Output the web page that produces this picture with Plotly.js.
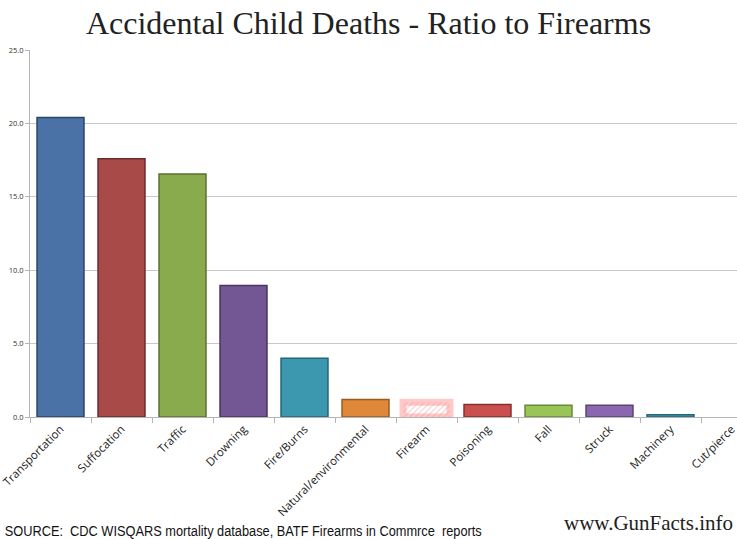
<!DOCTYPE html>
<html>
<head>
<meta charset="utf-8">
<script src="https://cdn.plot.ly/plotly-3.0.1.min.js"></script>
<style>html,body{margin:0;padding:0;background:#fff;}#chart{width:737px;height:539px;}</style>
</head>
<body>
<div id="chart"></div>
<script>
const categories = ["Transportation","Suffocation","Traffic","Drowning","Fire/Burns","Natural/environmental","Firearm","Poisoning","Fall","Struck","Machinery","Cut/pierce"];
const ratios = [20.4, 17.6, 16.55, 8.95, 4.0, 1.2, 1.0, 0.85, 0.8, 0.8, 0.15, 0.0];
const barColors = ["#4A72A6","#A84A48","#8AAA4E","#735694","#3C98AE","#E0883A","#F6D3D3","#C9504E","#9BC456","#8A68B0","#3EA4C0","#3EA4C0"];
const edgeColors = ["#2B4566","#6A2C2B","#5A7230","#4A3561","#24657A","#9A5A22","rgba(255,120,120,0.4)","#872F2E","#67893A","#5A4478","#24657A","#24657A"];
const tickVals = [0, 5, 10, 15, 20, 25];

const trace = {
  type: "bar",
  x: categories,
  y: ratios,
  width: 0.77,
  marker: {
    color: barColors,
    line: { color: edgeColors, width: categories.map((c, i) => c === "Firearm" ? 7 : (ratios[i] > 0 ? 1.5 : 0)) },
    pattern: {
      shape: categories.map(c => c === "Firearm" ? "/" : ""),
      fgcolor: "#E08A8A",
      bgcolor: "#FBE6E6",
      size: 4,
      solidity: 0.3
    }
  },
  hoverinfo: "x+y"
};

const layout = {
  width: 737, height: 539,
  margin: { l: 30, r: 0, t: 50, b: 122 },
  paper_bgcolor: "#fff", plot_bgcolor: "#fff",
  showlegend: false,
  title: {
    text: "Accidental Child Deaths - Ratio to Firearms",
    font: { family: "Liberation Serif, Times New Roman, serif", size: 32, color: "#222" },
    x: 0.5, xanchor: "center", y: 0.958, yanchor: "middle"
  },
  xaxis: {
    range: [-0.5, 11.09],
    tickangle: -45,
    tickfont: { family: "Open Sans, Carlito, sans-serif", size: 11.5, color: "#222" },
    showline: true, linecolor: "#b5b5b5", linewidth: 1,
    ticks: "outside", ticklen: 5, tickcolor: "#b5b5b5",
    tickson: "boundaries",
    showgrid: false, zeroline: false, fixedrange: true
  },
  yaxis: {
    range: [0, 25],
    tickvals: tickVals,
    tickformat: ".1f",
    tickfont: { family: "Open Sans, Carlito, sans-serif", size: 7.5, color: "#333" },
    showline: true, linecolor: "#b5b5b5", linewidth: 1,
    ticks: "outside", ticklen: 4, tickcolor: "#b5b5b5",
    showgrid: true, gridcolor: "#c8c8c8", gridwidth: 1,
    zeroline: false, fixedrange: true
  },
  annotations: [
    {
      text: "SOURCE:  CDC WISQARS mortality database, BATF Firearms in Commrce  reports",
      xref: "paper", yref: "paper", x: 0.302, y: -0.31, xanchor: "center", yanchor: "middle",
      showarrow: false,
      font: { family: "Liberation Sans Narrow, Arial Narrow, sans-serif", size: 14, color: "#111" }
    },
    {
      text: "www.GunFacts.info",
      xref: "paper", yref: "paper", x: 0.997, y: -0.29, xanchor: "right", yanchor: "middle",
      showarrow: false,
      font: { family: "Liberation Serif, Times New Roman, serif", size: 21, color: "#222" }
    }
  ]
};

Plotly.newPlot("chart", [trace], layout, { staticPlot: true, displayModeBar: false }).then(gd => {
  const txts = gd.querySelectorAll(".annotation-text");
  txts.forEach(t => {
    if (t.textContent.indexOf("SOURCE") === 0) {
      t.setAttribute("textLength", "477");
      t.setAttribute("lengthAdjust", "spacingAndGlyphs");
    }
  });
});
</script>
</body>
</html>
